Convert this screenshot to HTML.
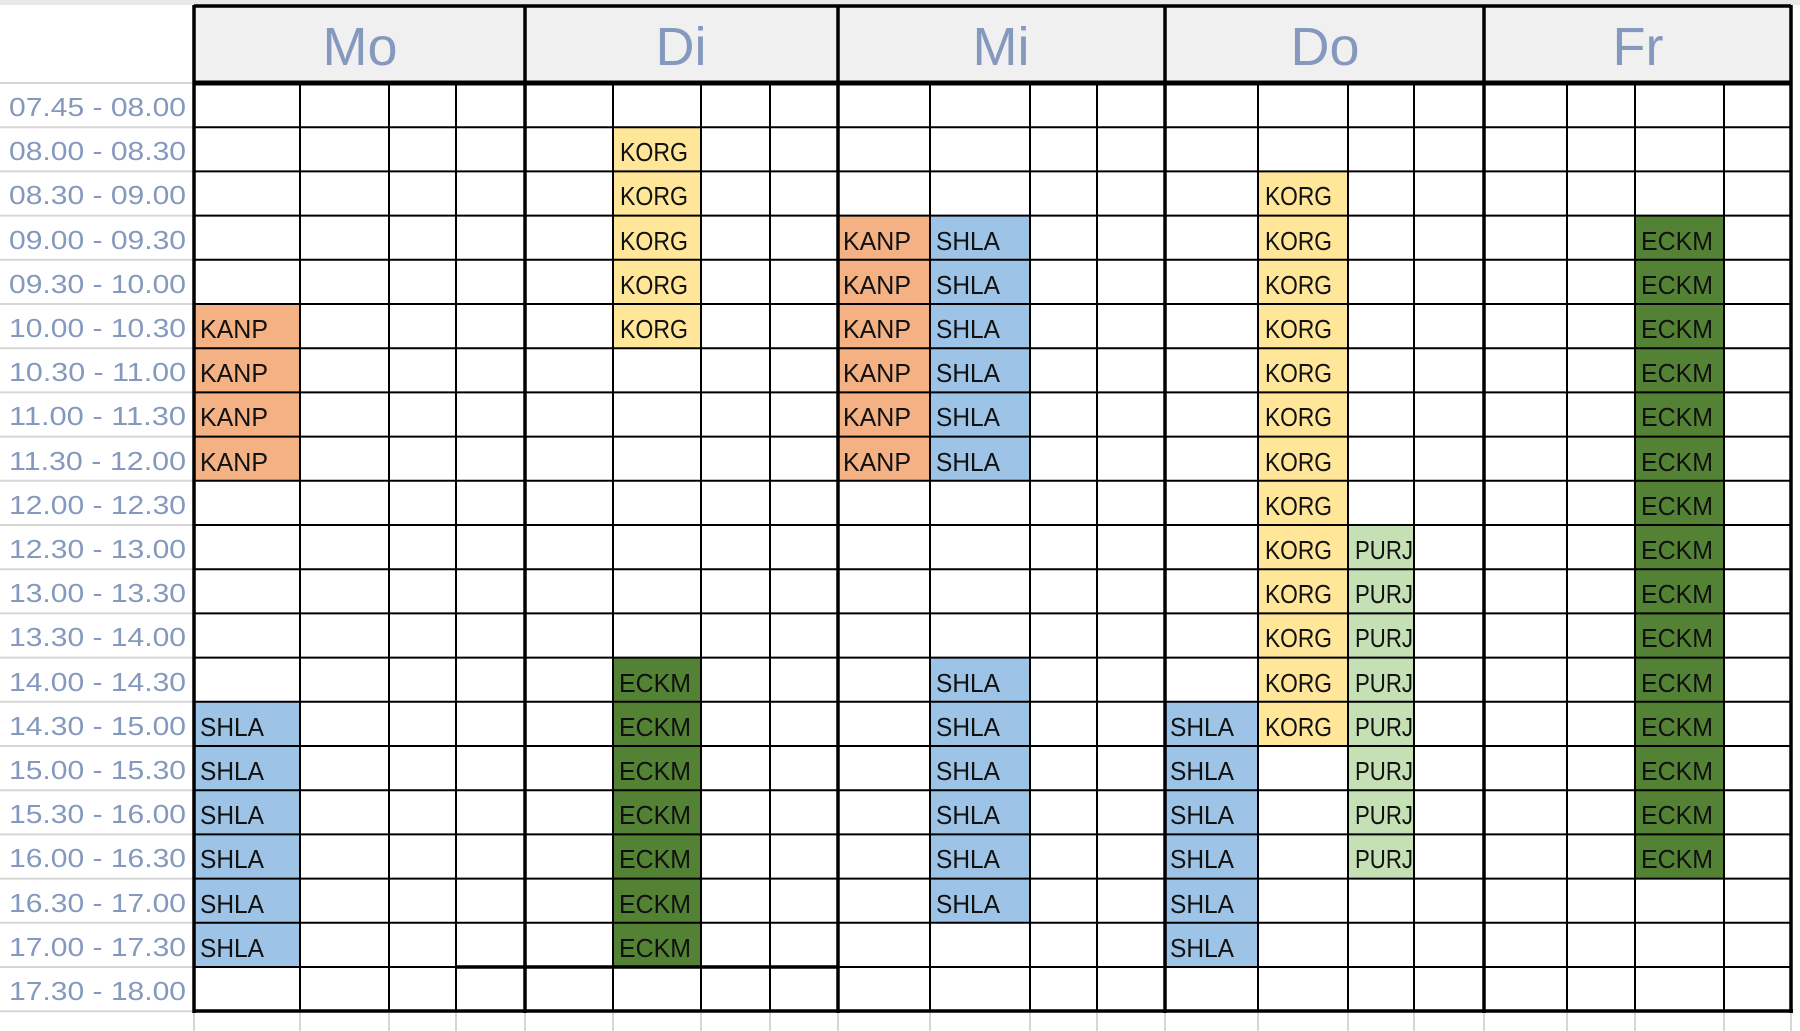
<!DOCTYPE html>
<html><head><meta charset="utf-8"><style>
html,body{margin:0;padding:0;background:#fff;width:1800px;height:1031px;overflow:hidden}
svg{display:block}
.t{font-family:"Liberation Sans",sans-serif;font-size:26px;fill:#8499bd}
.c{font-family:"Liberation Sans",sans-serif;font-size:26px;fill:#111}
.h{font-family:"Liberation Sans",sans-serif;font-size:54px;fill:#8499bd}
</style></head><body>
<svg width="1800" height="1031" viewBox="0 0 1800 1031">
<rect x="0" y="0" width="1800" height="5" fill="#e9e9e9"/>
<rect x="194" y="5" width="1597" height="78" fill="#f0f0f0"/>
<g id="fills">
<rect x="194" y="304" width="106" height="176.8" fill="#f4b183"/>
<rect x="194" y="701.8" width="106" height="265.2" fill="#9dc3e6"/>
<rect x="613" y="127.2" width="88" height="221" fill="#ffe699"/>
<rect x="613" y="657.6" width="88" height="309.4" fill="#548235"/>
<rect x="838" y="215.6" width="92" height="265.2" fill="#f4b183"/>
<rect x="930" y="215.6" width="100" height="265.2" fill="#9dc3e6"/>
<rect x="930" y="657.6" width="100" height="265.2" fill="#9dc3e6"/>
<rect x="1165" y="701.8" width="93" height="265.2" fill="#9dc3e6"/>
<rect x="1258" y="171.4" width="90" height="574.6" fill="#ffe699"/>
<rect x="1348" y="525" width="66" height="353.6" fill="#c5e0b4"/>
<rect x="1635" y="215.6" width="89" height="663" fill="#548235"/>
</g>
<g stroke="#d6d6d6" stroke-width="2">
<line x1="0" y1="83" x2="194" y2="83"/><line x1="0" y1="127.2" x2="194" y2="127.2"/><line x1="0" y1="171.4" x2="194" y2="171.4"/><line x1="0" y1="215.6" x2="194" y2="215.6"/><line x1="0" y1="259.8" x2="194" y2="259.8"/><line x1="0" y1="304" x2="194" y2="304"/><line x1="0" y1="348.2" x2="194" y2="348.2"/><line x1="0" y1="392.4" x2="194" y2="392.4"/><line x1="0" y1="436.6" x2="194" y2="436.6"/><line x1="0" y1="480.8" x2="194" y2="480.8"/><line x1="0" y1="525" x2="194" y2="525"/><line x1="0" y1="569.2" x2="194" y2="569.2"/><line x1="0" y1="613.4" x2="194" y2="613.4"/><line x1="0" y1="657.6" x2="194" y2="657.6"/><line x1="0" y1="701.8" x2="194" y2="701.8"/><line x1="0" y1="746" x2="194" y2="746"/><line x1="0" y1="790.2" x2="194" y2="790.2"/><line x1="0" y1="834.4" x2="194" y2="834.4"/><line x1="0" y1="878.6" x2="194" y2="878.6"/><line x1="0" y1="922.8" x2="194" y2="922.8"/><line x1="0" y1="967" x2="194" y2="967"/><line x1="0" y1="1011.2" x2="194" y2="1011.2"/>
<line x1="194" y1="1011" x2="194" y2="1031"/><line x1="300" y1="1011" x2="300" y2="1031"/><line x1="389" y1="1011" x2="389" y2="1031"/><line x1="456" y1="1011" x2="456" y2="1031"/><line x1="525" y1="1011" x2="525" y2="1031"/><line x1="613" y1="1011" x2="613" y2="1031"/><line x1="701" y1="1011" x2="701" y2="1031"/><line x1="770" y1="1011" x2="770" y2="1031"/><line x1="838" y1="1011" x2="838" y2="1031"/><line x1="930" y1="1011" x2="930" y2="1031"/><line x1="1030" y1="1011" x2="1030" y2="1031"/><line x1="1097" y1="1011" x2="1097" y2="1031"/><line x1="1165" y1="1011" x2="1165" y2="1031"/><line x1="1258" y1="1011" x2="1258" y2="1031"/><line x1="1348" y1="1011" x2="1348" y2="1031"/><line x1="1414" y1="1011" x2="1414" y2="1031"/><line x1="1484" y1="1011" x2="1484" y2="1031"/><line x1="1567" y1="1011" x2="1567" y2="1031"/><line x1="1635" y1="1011" x2="1635" y2="1031"/><line x1="1724" y1="1011" x2="1724" y2="1031"/><line x1="1791" y1="1011" x2="1791" y2="1031"/>
</g>
<g stroke="#000" stroke-width="2">
<line x1="194" y1="127.2" x2="1791" y2="127.2"/><line x1="194" y1="171.4" x2="1791" y2="171.4"/><line x1="194" y1="215.6" x2="1791" y2="215.6"/><line x1="194" y1="259.8" x2="1791" y2="259.8"/><line x1="194" y1="304" x2="1791" y2="304"/><line x1="194" y1="348.2" x2="1791" y2="348.2"/><line x1="194" y1="392.4" x2="1791" y2="392.4"/><line x1="194" y1="436.6" x2="1791" y2="436.6"/><line x1="194" y1="480.8" x2="1791" y2="480.8"/><line x1="194" y1="525" x2="1791" y2="525"/><line x1="194" y1="569.2" x2="1791" y2="569.2"/><line x1="194" y1="613.4" x2="1791" y2="613.4"/><line x1="194" y1="657.6" x2="1791" y2="657.6"/><line x1="194" y1="701.8" x2="1791" y2="701.8"/><line x1="194" y1="746" x2="1791" y2="746"/><line x1="194" y1="790.2" x2="1791" y2="790.2"/><line x1="194" y1="834.4" x2="1791" y2="834.4"/><line x1="194" y1="878.6" x2="1791" y2="878.6"/><line x1="194" y1="922.8" x2="1791" y2="922.8"/><line x1="194" y1="967" x2="1791" y2="967"/>
<line x1="300" y1="83" x2="300" y2="1011"/><line x1="389" y1="83" x2="389" y2="1011"/><line x1="456" y1="83" x2="456" y2="1011"/><line x1="613" y1="83" x2="613" y2="1011"/><line x1="701" y1="83" x2="701" y2="1011"/><line x1="770" y1="83" x2="770" y2="1011"/><line x1="930" y1="83" x2="930" y2="1011"/><line x1="1030" y1="83" x2="1030" y2="1011"/><line x1="1097" y1="83" x2="1097" y2="1011"/><line x1="1258" y1="83" x2="1258" y2="1011"/><line x1="1348" y1="83" x2="1348" y2="1011"/><line x1="1414" y1="83" x2="1414" y2="1011"/><line x1="1567" y1="83" x2="1567" y2="1011"/><line x1="1635" y1="83" x2="1635" y2="1011"/><line x1="1724" y1="83" x2="1724" y2="1011"/>
</g>
<g stroke="#000" stroke-width="3.5">
<line x1="456" y1="967" x2="838" y2="967"/>
<line x1="194" y1="5" x2="194" y2="1013"/><line x1="525" y1="5" x2="525" y2="1013"/><line x1="838" y1="5" x2="838" y2="1013"/><line x1="1165" y1="5" x2="1165" y2="1013"/><line x1="1484" y1="5" x2="1484" y2="1013"/><line x1="1791" y1="5" x2="1791" y2="1013"/>
<line x1="194" y1="6" x2="1791" y2="6"/>
<line x1="194" y1="1011" x2="1793" y2="1011"/>
</g>
<line x1="194" y1="83" x2="1791" y2="83" stroke="#000" stroke-width="5"/>
<g class="h" text-anchor="middle">
<text x="360" y="65">Mo</text><text x="681" y="65">Di</text><text x="1001" y="65">Mi</text><text x="1325" y="65">Do</text><text x="1638" y="65">Fr</text>
</g>
<g class="t">
<text x="9" y="116" textLength="177" lengthAdjust="spacingAndGlyphs">07.45 - 08.00</text>
<text x="9" y="160" textLength="177" lengthAdjust="spacingAndGlyphs">08.00 - 08.30</text>
<text x="9" y="204" textLength="177" lengthAdjust="spacingAndGlyphs">08.30 - 09.00</text>
<text x="9" y="249" textLength="177" lengthAdjust="spacingAndGlyphs">09.00 - 09.30</text>
<text x="9" y="293" textLength="177" lengthAdjust="spacingAndGlyphs">09.30 - 10.00</text>
<text x="9" y="337" textLength="177" lengthAdjust="spacingAndGlyphs">10.00 - 10.30</text>
<text x="9" y="381" textLength="177" lengthAdjust="spacingAndGlyphs">10.30 - 11.00</text>
<text x="9" y="425" textLength="177" lengthAdjust="spacingAndGlyphs">11.00 - 11.30</text>
<text x="9" y="470" textLength="177" lengthAdjust="spacingAndGlyphs">11.30 - 12.00</text>
<text x="9" y="514" textLength="177" lengthAdjust="spacingAndGlyphs">12.00 - 12.30</text>
<text x="9" y="558" textLength="177" lengthAdjust="spacingAndGlyphs">12.30 - 13.00</text>
<text x="9" y="602" textLength="177" lengthAdjust="spacingAndGlyphs">13.00 - 13.30</text>
<text x="9" y="646" textLength="177" lengthAdjust="spacingAndGlyphs">13.30 - 14.00</text>
<text x="9" y="691" textLength="177" lengthAdjust="spacingAndGlyphs">14.00 - 14.30</text>
<text x="9" y="735" textLength="177" lengthAdjust="spacingAndGlyphs">14.30 - 15.00</text>
<text x="9" y="779" textLength="177" lengthAdjust="spacingAndGlyphs">15.00 - 15.30</text>
<text x="9" y="823" textLength="177" lengthAdjust="spacingAndGlyphs">15.30 - 16.00</text>
<text x="9" y="867" textLength="177" lengthAdjust="spacingAndGlyphs">16.00 - 16.30</text>
<text x="9" y="912" textLength="177" lengthAdjust="spacingAndGlyphs">16.30 - 17.00</text>
<text x="9" y="956" textLength="177" lengthAdjust="spacingAndGlyphs">17.00 - 17.30</text>
<text x="9" y="1000" textLength="177" lengthAdjust="spacingAndGlyphs">17.30 - 18.00</text>
</g>
<g class="c">
<text x="200" y="338" textLength="68" lengthAdjust="spacingAndGlyphs">KANP</text>
<text x="200" y="382" textLength="68" lengthAdjust="spacingAndGlyphs">KANP</text>
<text x="200" y="426" textLength="68" lengthAdjust="spacingAndGlyphs">KANP</text>
<text x="200" y="471" textLength="68" lengthAdjust="spacingAndGlyphs">KANP</text>
<text x="200" y="736" textLength="64" lengthAdjust="spacingAndGlyphs">SHLA</text>
<text x="200" y="780" textLength="64" lengthAdjust="spacingAndGlyphs">SHLA</text>
<text x="200" y="824" textLength="64" lengthAdjust="spacingAndGlyphs">SHLA</text>
<text x="200" y="868" textLength="64" lengthAdjust="spacingAndGlyphs">SHLA</text>
<text x="200" y="913" textLength="64" lengthAdjust="spacingAndGlyphs">SHLA</text>
<text x="200" y="957" textLength="64" lengthAdjust="spacingAndGlyphs">SHLA</text>
<text x="620" y="161" textLength="68" lengthAdjust="spacingAndGlyphs">KORG</text>
<text x="620" y="205" textLength="68" lengthAdjust="spacingAndGlyphs">KORG</text>
<text x="620" y="250" textLength="68" lengthAdjust="spacingAndGlyphs">KORG</text>
<text x="620" y="294" textLength="68" lengthAdjust="spacingAndGlyphs">KORG</text>
<text x="620" y="338" textLength="68" lengthAdjust="spacingAndGlyphs">KORG</text>
<text x="619" y="692" textLength="72" lengthAdjust="spacingAndGlyphs">ECKM</text>
<text x="619" y="736" textLength="72" lengthAdjust="spacingAndGlyphs">ECKM</text>
<text x="619" y="780" textLength="72" lengthAdjust="spacingAndGlyphs">ECKM</text>
<text x="619" y="824" textLength="72" lengthAdjust="spacingAndGlyphs">ECKM</text>
<text x="619" y="868" textLength="72" lengthAdjust="spacingAndGlyphs">ECKM</text>
<text x="619" y="913" textLength="72" lengthAdjust="spacingAndGlyphs">ECKM</text>
<text x="619" y="957" textLength="72" lengthAdjust="spacingAndGlyphs">ECKM</text>
<text x="843" y="250" textLength="68" lengthAdjust="spacingAndGlyphs">KANP</text>
<text x="843" y="294" textLength="68" lengthAdjust="spacingAndGlyphs">KANP</text>
<text x="843" y="338" textLength="68" lengthAdjust="spacingAndGlyphs">KANP</text>
<text x="843" y="382" textLength="68" lengthAdjust="spacingAndGlyphs">KANP</text>
<text x="843" y="426" textLength="68" lengthAdjust="spacingAndGlyphs">KANP</text>
<text x="843" y="471" textLength="68" lengthAdjust="spacingAndGlyphs">KANP</text>
<text x="936" y="250" textLength="64" lengthAdjust="spacingAndGlyphs">SHLA</text>
<text x="936" y="294" textLength="64" lengthAdjust="spacingAndGlyphs">SHLA</text>
<text x="936" y="338" textLength="64" lengthAdjust="spacingAndGlyphs">SHLA</text>
<text x="936" y="382" textLength="64" lengthAdjust="spacingAndGlyphs">SHLA</text>
<text x="936" y="426" textLength="64" lengthAdjust="spacingAndGlyphs">SHLA</text>
<text x="936" y="471" textLength="64" lengthAdjust="spacingAndGlyphs">SHLA</text>
<text x="936" y="692" textLength="64" lengthAdjust="spacingAndGlyphs">SHLA</text>
<text x="936" y="736" textLength="64" lengthAdjust="spacingAndGlyphs">SHLA</text>
<text x="936" y="780" textLength="64" lengthAdjust="spacingAndGlyphs">SHLA</text>
<text x="936" y="824" textLength="64" lengthAdjust="spacingAndGlyphs">SHLA</text>
<text x="936" y="868" textLength="64" lengthAdjust="spacingAndGlyphs">SHLA</text>
<text x="936" y="913" textLength="64" lengthAdjust="spacingAndGlyphs">SHLA</text>
<text x="1170" y="736" textLength="64" lengthAdjust="spacingAndGlyphs">SHLA</text>
<text x="1170" y="780" textLength="64" lengthAdjust="spacingAndGlyphs">SHLA</text>
<text x="1170" y="824" textLength="64" lengthAdjust="spacingAndGlyphs">SHLA</text>
<text x="1170" y="868" textLength="64" lengthAdjust="spacingAndGlyphs">SHLA</text>
<text x="1170" y="913" textLength="64" lengthAdjust="spacingAndGlyphs">SHLA</text>
<text x="1170" y="957" textLength="64" lengthAdjust="spacingAndGlyphs">SHLA</text>
<text x="1265" y="205" textLength="67" lengthAdjust="spacingAndGlyphs">KORG</text>
<text x="1265" y="250" textLength="67" lengthAdjust="spacingAndGlyphs">KORG</text>
<text x="1265" y="294" textLength="67" lengthAdjust="spacingAndGlyphs">KORG</text>
<text x="1265" y="338" textLength="67" lengthAdjust="spacingAndGlyphs">KORG</text>
<text x="1265" y="382" textLength="67" lengthAdjust="spacingAndGlyphs">KORG</text>
<text x="1265" y="426" textLength="67" lengthAdjust="spacingAndGlyphs">KORG</text>
<text x="1265" y="471" textLength="67" lengthAdjust="spacingAndGlyphs">KORG</text>
<text x="1265" y="515" textLength="67" lengthAdjust="spacingAndGlyphs">KORG</text>
<text x="1265" y="559" textLength="67" lengthAdjust="spacingAndGlyphs">KORG</text>
<text x="1265" y="603" textLength="67" lengthAdjust="spacingAndGlyphs">KORG</text>
<text x="1265" y="647" textLength="67" lengthAdjust="spacingAndGlyphs">KORG</text>
<text x="1265" y="692" textLength="67" lengthAdjust="spacingAndGlyphs">KORG</text>
<text x="1265" y="736" textLength="67" lengthAdjust="spacingAndGlyphs">KORG</text>
<text x="1355" y="559" textLength="58" lengthAdjust="spacingAndGlyphs">PURJ</text>
<text x="1355" y="603" textLength="58" lengthAdjust="spacingAndGlyphs">PURJ</text>
<text x="1355" y="647" textLength="58" lengthAdjust="spacingAndGlyphs">PURJ</text>
<text x="1355" y="692" textLength="58" lengthAdjust="spacingAndGlyphs">PURJ</text>
<text x="1355" y="736" textLength="58" lengthAdjust="spacingAndGlyphs">PURJ</text>
<text x="1355" y="780" textLength="58" lengthAdjust="spacingAndGlyphs">PURJ</text>
<text x="1355" y="824" textLength="58" lengthAdjust="spacingAndGlyphs">PURJ</text>
<text x="1355" y="868" textLength="58" lengthAdjust="spacingAndGlyphs">PURJ</text>
<text x="1641" y="250" textLength="72" lengthAdjust="spacingAndGlyphs">ECKM</text>
<text x="1641" y="294" textLength="72" lengthAdjust="spacingAndGlyphs">ECKM</text>
<text x="1641" y="338" textLength="72" lengthAdjust="spacingAndGlyphs">ECKM</text>
<text x="1641" y="382" textLength="72" lengthAdjust="spacingAndGlyphs">ECKM</text>
<text x="1641" y="426" textLength="72" lengthAdjust="spacingAndGlyphs">ECKM</text>
<text x="1641" y="471" textLength="72" lengthAdjust="spacingAndGlyphs">ECKM</text>
<text x="1641" y="515" textLength="72" lengthAdjust="spacingAndGlyphs">ECKM</text>
<text x="1641" y="559" textLength="72" lengthAdjust="spacingAndGlyphs">ECKM</text>
<text x="1641" y="603" textLength="72" lengthAdjust="spacingAndGlyphs">ECKM</text>
<text x="1641" y="647" textLength="72" lengthAdjust="spacingAndGlyphs">ECKM</text>
<text x="1641" y="692" textLength="72" lengthAdjust="spacingAndGlyphs">ECKM</text>
<text x="1641" y="736" textLength="72" lengthAdjust="spacingAndGlyphs">ECKM</text>
<text x="1641" y="780" textLength="72" lengthAdjust="spacingAndGlyphs">ECKM</text>
<text x="1641" y="824" textLength="72" lengthAdjust="spacingAndGlyphs">ECKM</text>
<text x="1641" y="868" textLength="72" lengthAdjust="spacingAndGlyphs">ECKM</text>
</g>
</svg>
</body></html>
